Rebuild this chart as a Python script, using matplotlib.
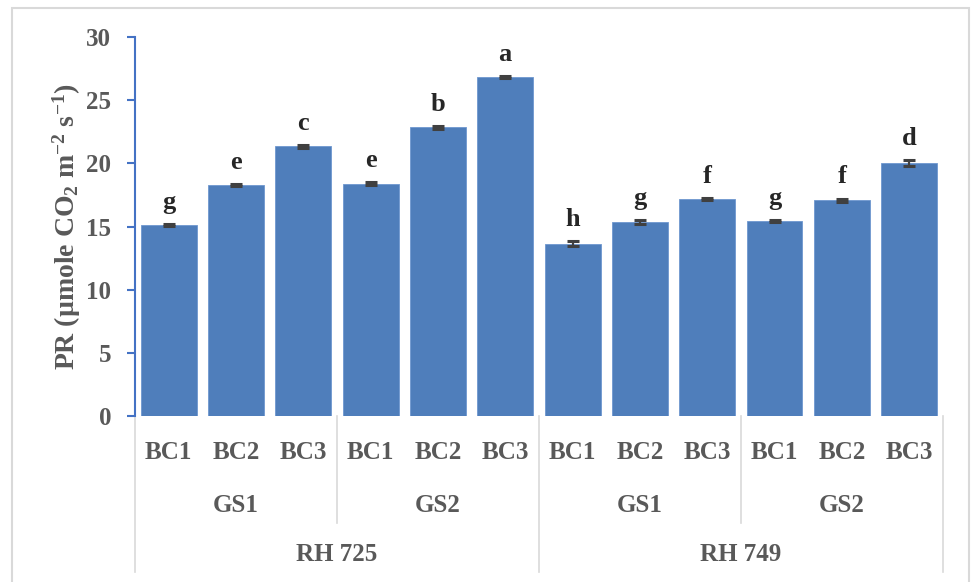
import matplotlib
matplotlib.use("Agg")
import matplotlib.pyplot as plt
from matplotlib.patches import Rectangle
from matplotlib.lines import Line2D

plt.rcParams['font.family'] = ['Liberation Serif', 'DejaVu Serif']
plt.rcParams['mathtext.fontset'] = 'custom'
plt.rcParams['mathtext.rm'] = 'Liberation Serif:bold'
plt.rcParams['mathtext.bf'] = 'Liberation Serif:bold'
plt.rcParams['mathtext.it'] = 'Liberation Serif:bold:italic'

# Data
treatments = ["BC1", "BC2", "BC3"] * 4
stages = ["GS1", "GS2", "GS1", "GS2"]
varieties = ["RH 725", "RH 749"]
pr_values = [15.1, 18.3, 21.35, 18.4, 22.87, 26.85,
             13.65, 15.35, 17.2, 15.45, 17.1, 20.05]
pr_errors = [0.08, 0.1, 0.12, 0.12, 0.12, 0.1,
             0.22, 0.14, 0.08, 0.08, 0.12, 0.22]
letters = ["g", "e", "c", "e", "b", "a",
           "h", "g", "f", "g", "f", "d"]

TXT = "#595959"
BAR = "#4F7EBB"
AXIS_BLUE = "#4472C4"
GRID_GRAY = "#D9D9D9"

fig = plt.figure(figsize=(9.71, 5.82), dpi=100)
ax = fig.add_axes([0.139, 0.2857, 0.832, 0.6502])

x = list(range(len(pr_values)))
ax.bar(x, pr_values, width=0.83, color=BAR, edgecolor="#6E97CF", linewidth=0.6,
       zorder=2)
ax.errorbar(x, pr_values, yerr=pr_errors, fmt="none", ecolor="#404040",
            elinewidth=1.6, capsize=4, capthick=2.2, zorder=3)

for xi, v, e, t in zip(x, pr_values, pr_errors, letters):
    ax.text(xi, v + e + 0.8, t, ha="center", va="bottom", fontsize=19,
            fontweight="bold", color="#262626")

ax.set_xlim(-0.5, len(pr_values) - 0.5)
ax.set_ylim(0, 30)
ax.set_yticks(range(0, 31, 5))
ax.tick_params(axis="y", direction="out", length=6, width=1.5,
               color=AXIS_BLUE, labelsize=18, labelcolor=TXT, pad=11)
for lab in ax.get_yticklabels():
    lab.set_fontweight("bold")
ax.set_xticks([])
for s in ["top", "right", "bottom"]:
    ax.spines[s].set_visible(False)
ax.spines["left"].set_color(AXIS_BLUE)
ax.spines["left"].set_linewidth(1.5)

ax.set_ylabel(r"PR (µmole CO$\mathregular{_2}$ m$\mathregular{^{-2}}$ s$\mathregular{^{-1}}$)",
              fontsize=20, fontweight="bold", color=TXT)
ax.yaxis.set_label_coords(-0.064, 0.5)

# Multi-level category axis
trans = ax.get_xaxis_transform()
n = len(pr_values)
y_bc, y_gs, y_rh = -0.096, -0.236, -0.368
y_gs_end, y_end = -0.284, -0.413

for xi, t in zip(x, treatments):
    ax.text(xi, y_bc, t, transform=trans, ha="center", va="center",
            fontsize=18, fontweight="bold", color=TXT, clip_on=False)
for gi, g in enumerate(stages):
    ax.text(gi * 3 + 1, y_gs, g, transform=trans, ha="center", va="center",
            fontsize=18, fontweight="bold", color=TXT, clip_on=False)
for vi, v in enumerate(varieties):
    ax.text(vi * 6 + 2.5, y_rh, v, transform=trans, ha="center", va="center",
            fontsize=18, fontweight="bold", color=TXT, clip_on=False)

for b in range(0, n + 1, 3):
    xb = b - 0.5
    bottom = y_end if b % 6 == 0 else y_gs_end
    ax.add_line(Line2D([xb, xb], [0, bottom], transform=trans, color=GRID_GRAY,
                       linewidth=1.2, clip_on=False))

# Chart frame
fig.patches.append(Rectangle((12 / 971, -0.02), (969 - 12) / 971, 1.02 - 8 / 582,
                             transform=fig.transFigure, fill=False,
                             edgecolor=GRID_GRAY, linewidth=1.5))

fig.savefig("out.png", dpi=100)
